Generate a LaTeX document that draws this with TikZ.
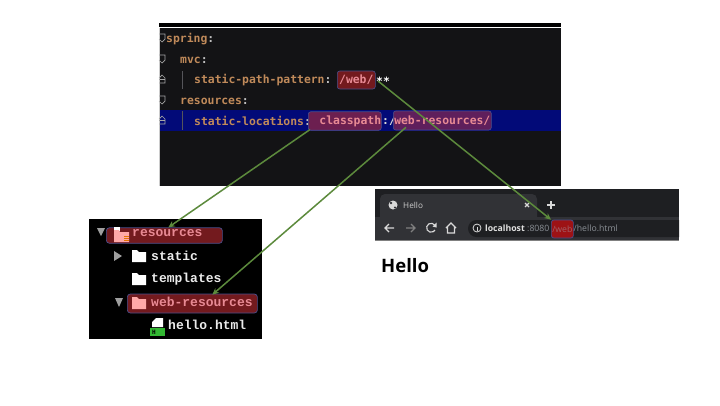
\documentclass[tikz,border=0pt]{standalone}
\usepackage{fontspec}
\setmainfont{Open Sans}
\newfontfamily\codefont{DejaVu Sans Mono}
\newfontfamily\treefont{Liberation Mono}
\newfontfamily\uifont{Open Sans}
\usetikzlibrary{arrows.meta,positioning}
\definecolor{edbg}{HTML}{131315}
\definecolor{edblue}{HTML}{020A78}
\definecolor{edorange}{HTML}{C08A5A}
\definecolor{edpink}{HTML}{E88A94}
\definecolor{hlred}{HTML}{731A1E}
\definecolor{hlpurple}{HTML}{6C1F50}
\definecolor{hlviolet}{HTML}{5F1F5C}
\definecolor{hledge}{HTML}{4A4F8C}
\definecolor{arrowgreen}{HTML}{5C8A3C}
\definecolor{tabbar}{HTML}{1E1F22}
\definecolor{tabface}{HTML}{313236}
\definecolor{urlgray}{HTML}{8A8F95}
\definecolor{guide}{HTML}{55555A}
\tikzset{
  codetext/.style={inner sep=0pt,anchor=west,font=\codefont\bfseries\fontsize{11.4}{13}\selectfont,text=edorange},
  treetext/.style={inner sep=0pt,anchor=west,font=\treefont\bfseries\fontsize{13}{15}\selectfont,text=white!92!black},
  hlcode/.style={draw=hledge,line width=0.6pt,rounded corners=2.5pt,inner sep=0pt,anchor=west,font=\codefont\bfseries\fontsize{11.4}{13}\selectfont,text=edpink},
  hltree/.style={draw=hledge,line width=0.7pt,rounded corners=3pt,fill=hlred,inner sep=0pt,anchor=west},
  link/.style={draw=arrowgreen,line width=1.5pt,-{Stealth[length=6.5pt,width=6pt]}},
  uitext/.style={inner sep=0pt,anchor=west,font=\uifont\fontsize{8.2}{10}\selectfont},
  uiicon/.style={draw=white!85!black,line width=1.1pt},
  foldmark/.style={draw=white!65!black,line width=0.7pt},
  folderwhite/.style={fill=white,draw=none},
  folderpink/.style={fill=red!35!white!90!pink,draw=none},
  tritri/.style={fill=white!62!black,draw=none},
}
\begin{document}
\begin{tikzpicture}[x=1pt,y=-1pt]
\useasboundingbox (0,0) rectangle (720,405);
\fill[white] (0,0) rectangle (720,405);

% ---------- editor ----------
\fill[edbg] (159,23) rectangle (561,186);
\fill[black] (159,23) rectangle (561,27);
\fill[white] (159,27) rectangle (561,28);
\fill[white!80!black] (159,28) rectangle (160,186);
\fill[edblue] (160,110) rectangle (561,131);
% gutter fold marks
\foreach \yy in {38,59,100}{
  \draw[foldmark] (159,\yy-4) -- (165,\yy-4) -- (165,\yy+1) -- (162,\yy+4) -- (159,\yy+1);
}
\foreach \yy in {79,120}{
  \draw[foldmark] (159,\yy+4) -- (165,\yy+4) -- (165,\yy-1) -- (162,\yy-4) -- (159,\yy-1);
  \draw[foldmark] (159,\yy) -- (165,\yy);
}
\draw[guide,line width=0.7pt] (182,71) -- (182,89);
\draw[guide,line width=0.7pt] (182,111) -- (182,130);

\node[codetext] (spring) at (166,39) {spring\textcolor{white!75!black}{:}};
\node[codetext] (mvc) at (180,60) {mvc\textcolor{white!75!black}{:}};
\node[codetext] (pathkey) at (194,80) {static-path-pattern\textcolor{white!75!black}{:}};
\node[codetext] (reskey) at (180,101) {resources\textcolor{white!75!black}{:}};
\node[codetext] (lockey) at (194,121) {static-locations\textcolor{white!75!black}{:}};

\node[hlcode,fill=hlred,minimum width=38pt,minimum height=18pt] (webpat) at (337,80) {/web/};
\node[codetext,text=white,anchor=west] (stars) at (376,81) {**};
\node[hlcode,fill=hlpurple,minimum width=73pt,minimum height=18.5pt] (classpath) at (308,121) {\hspace*{11pt}classpath};
\node[codetext,text=white!85!black] (colon) at (382,121) {:/};
\node[hlcode,fill=hlviolet,minimum width=98pt,minimum height=19pt] (webres) at (393,120.5) {web-resources/};

% ---------- project tree ----------
\fill[black] (89,219) rectangle (262,339);

\node[hltree,minimum width=116pt,minimum height=15.5pt] (resbar) at (106,235.5) {};
\fill[tritri] (97,228) -- (105,228) -- (101,236) -- cycle;
\fill[white] (114,227) rectangle (120,231);
\fill[folderpink] (114,230) -- (119,230) -- (120,232) -- (129,232) -- (129,242) -- (114,242) -- cycle;
\foreach \yy in {236.5,238.5,240.5}{\draw[orange!90!black,line width=0.9pt] (124,\yy) -- (129,\yy);}
\node[treetext,text=edpink] (restext) at (132,233) {resources};

\fill[tritri] (114,251) -- (122,256) -- (114,261) -- cycle;
\fill[folderwhite] (132,250) -- (137,250) -- (139,252) -- (146,252) -- (146,262) -- (132,262) -- cycle;
\node[treetext] (statictext) at (151,256) {static};

\fill[folderwhite] (132,273) -- (137,273) -- (139,275) -- (146,275) -- (146,285) -- (132,285) -- cycle;
\node[treetext] (templatestext) at (151,279) {templates};

\fill[tritri] (115,298) -- (123,298) -- (119,307) -- cycle;
\node[hltree,minimum width=130pt,minimum height=19pt] (webbar) at (127,303.5) {};
\fill[folderpink] (132,297) -- (137,297) -- (139,299) -- (146,299) -- (146,309) -- (132,309) -- cycle;
\node[treetext,text=edpink] (webtext) at (151,302) {web-resources};

\fill[white] (152,322) -- (156,318) -- (163,318) -- (163,327) -- (152,327) -- cycle;
\fill[green!65!black!80!white] (150,328) rectangle (165,336);
\node[inner sep=0pt,font=\codefont\bfseries\fontsize{6}{6}\selectfont,text=black] (hicon) at (154,332) {H};
\node[treetext] (hellotext) at (168,325) {hello.html};

% ---------- browser ----------
\fill[tabbar] (375,189) rectangle (679,241);
\fill[tabface,rounded corners=5pt] (380,222) -- (380,194) -- (537,194) -- (537,222) -- cycle;
\fill[tabface] (375,217) rectangle (679,240);
\begin{scope}
\clip (375,189) rectangle (679,241);
\fill[tabbar,rounded corners=8.5pt] (468,220) rectangle (700,237);
\end{scope}
\fill[white!50!black] (375,240) rectangle (679,241);

\fill[white!85!black] (393,205) circle (4.5pt);
\fill[tabface] (391,203) circle (1.4pt);
\fill[tabface] (395,207.5) circle (1.2pt);
\node[uitext,text=white!80!black] (tabtitle) at (403,205) {Hello};
\draw[uiicon] (525,203) -- (529,207) (529,203) -- (525,207);
\draw[uiicon] (551,201) -- (551,209) (547,205) -- (555,205);

% back, forward, reload, home
\draw[uiicon] (394,228) -- (385,228) (389,224) -- (385,228) -- (389,232);
\draw[uiicon,draw=white!50!black] (406,228) -- (415,228) (411,224) -- (415,228) -- (411,232);
\draw[uiicon] (435,225.5) arc[start angle=30,end angle=330,radius=4.5pt];
\fill[white!85!black] (436.5,222.5) -- (436.5,227.5) -- (432.5,226.5) -- cycle;
\draw[uiicon] (446,228) -- (451,223) -- (456,228) (447.5,227) -- (447.5,233) -- (454.5,233) -- (454.5,227);
\draw[white!85!black,line width=0.8pt] (477,228) circle (4pt);
\draw[white!85!black,line width=0.8pt] (477,226.5) -- (477,230.5);

\node[uitext,font=\uifont\bfseries\fontsize{8.7}{10}\selectfont,text=white!88!black] (host) at (485,228.3) {localhost};
\node[uitext,text=urlgray,font=\uifont\fontsize{8.7}{10}\selectfont] (port) at (527,228.3) {:8080};
\node[draw=hledge,fill=hlred!70!red,line width=0.7pt,rounded corners=2.5pt,inner sep=0pt,minimum width=22pt,minimum height=18pt,anchor=west,font=\uifont\fontsize{8.7}{10}\selectfont,text=edpink!70!black] (urlweb) at (551,229) {/web};
\node[uitext,text=urlgray,font=\uifont\fontsize{8.7}{10}\selectfont] (urlrest) at (573.5,228.3) {/hello.html};

\node[inner sep=0pt,anchor=west,font=\uifont\bfseries\fontsize{18.5}{22}\selectfont,text=black] (hello) at (381,266) {Hello};

% ---------- connectors ----------
\draw[link] ([xshift=2pt,yshift=1pt]classpath.south west) -- ([xshift=4pt]resbar.north);
\draw[link] ([xshift=13pt,yshift=3pt]webres.south west) -- ([xshift=20pt,yshift=-1pt]webbar.north);
\draw[link] ([xshift=2pt]stars.west) -- (urlweb.north west);
\end{tikzpicture}
\end{document}
